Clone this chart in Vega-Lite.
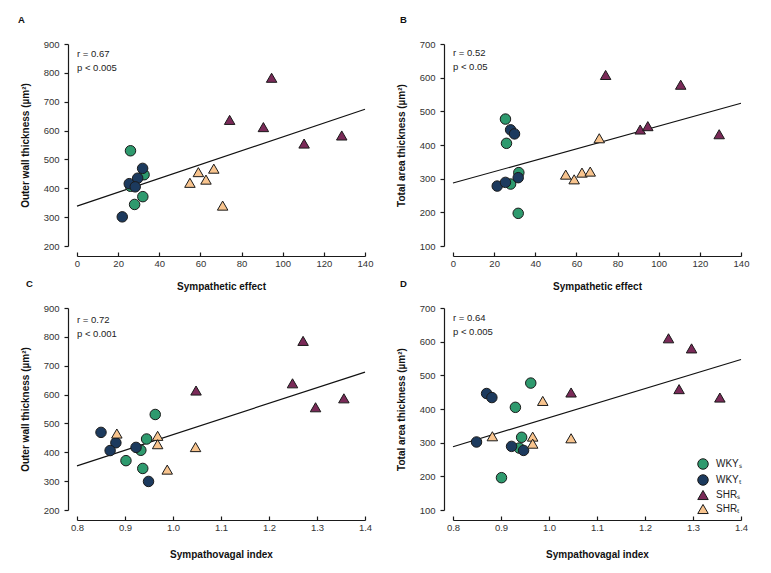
{
  "$schema": "https://vega.github.io/schema/vega-lite/v6.json",
  "background": "white",
  "padding": {"left": 18, "top": 14, "right": 20, "bottom": 8},
  "datasets": {
    "a": [
      {"group": "WKY_S", "x": 26, "y": 530}, {"group": "WKY_S", "x": 32.6, "y": 447}, {"group": "WKY_S", "x": 26, "y": 407}, {"group": "WKY_S", "x": 32, "y": 371}, {"group": "WKY_S", "x": 28, "y": 344},
      {"group": "WKY_T", "x": 22, "y": 301}, {"group": "WKY_T", "x": 25.4, "y": 416}, {"group": "WKY_T", "x": 29.5, "y": 435}, {"group": "WKY_T", "x": 28.3, "y": 405}, {"group": "WKY_T", "x": 31.9, "y": 469},
      {"group": "SHR_S", "x": 74.2, "y": 637}, {"group": "SHR_S", "x": 94.6, "y": 783}, {"group": "SHR_S", "x": 90.6, "y": 612}, {"group": "SHR_S", "x": 110.4, "y": 555}, {"group": "SHR_S", "x": 128.7, "y": 583},
      {"group": "SHR_T", "x": 54.9, "y": 419}, {"group": "SHR_T", "x": 59, "y": 456}, {"group": "SHR_T", "x": 62.7, "y": 430}, {"group": "SHR_T", "x": 66.5, "y": 468}, {"group": "SHR_T", "x": 70.8, "y": 340}
    ],
    "b": [
      {"group": "WKY_S", "x": 25.5, "y": 477}, {"group": "WKY_S", "x": 26, "y": 405}, {"group": "WKY_S", "x": 32, "y": 318}, {"group": "WKY_S", "x": 28, "y": 284}, {"group": "WKY_S", "x": 31.7, "y": 197},
      {"group": "WKY_T", "x": 28, "y": 445}, {"group": "WKY_T", "x": 29.9, "y": 433}, {"group": "WKY_T", "x": 21.5, "y": 278}, {"group": "WKY_T", "x": 25.5, "y": 289}, {"group": "WKY_T", "x": 31.7, "y": 303},
      {"group": "SHR_S", "x": 74.2, "y": 608}, {"group": "SHR_S", "x": 110.7, "y": 579}, {"group": "SHR_S", "x": 91, "y": 446}, {"group": "SHR_S", "x": 94.7, "y": 456}, {"group": "SHR_S", "x": 129.4, "y": 432},
      {"group": "SHR_T", "x": 71.1, "y": 420}, {"group": "SHR_T", "x": 54.8, "y": 312}, {"group": "SHR_T", "x": 58.9, "y": 298}, {"group": "SHR_T", "x": 62.7, "y": 318}, {"group": "SHR_T", "x": 66.7, "y": 321}
    ],
    "c": [
      {"group": "WKY_S", "x": 0.963, "y": 531}, {"group": "WKY_S", "x": 0.945, "y": 446}, {"group": "WKY_S", "x": 0.933, "y": 407}, {"group": "WKY_S", "x": 0.902, "y": 371}, {"group": "WKY_S", "x": 0.937, "y": 344},
      {"group": "WKY_T", "x": 0.85, "y": 469}, {"group": "WKY_T", "x": 0.881, "y": 433}, {"group": "WKY_T", "x": 0.869, "y": 406}, {"group": "WKY_T", "x": 0.923, "y": 417}, {"group": "WKY_T", "x": 0.949, "y": 299},
      {"group": "SHR_S", "x": 1.048, "y": 614}, {"group": "SHR_S", "x": 1.271, "y": 786}, {"group": "SHR_S", "x": 1.249, "y": 639}, {"group": "SHR_S", "x": 1.297, "y": 556}, {"group": "SHR_S", "x": 1.356, "y": 587},
      {"group": "SHR_T", "x": 0.883, "y": 465}, {"group": "SHR_T", "x": 0.968, "y": 457}, {"group": "SHR_T", "x": 0.968, "y": 428}, {"group": "SHR_T", "x": 1.047, "y": 418}, {"group": "SHR_T", "x": 0.988, "y": 340}
    ],
    "d": [
      {"group": "WKY_S", "x": 0.962, "y": 477}, {"group": "WKY_S", "x": 0.93, "y": 405}, {"group": "WKY_S", "x": 0.943, "y": 316}, {"group": "WKY_S", "x": 0.938, "y": 284}, {"group": "WKY_S", "x": 0.901, "y": 196},
      {"group": "WKY_T", "x": 0.87, "y": 446}, {"group": "WKY_T", "x": 0.881, "y": 434}, {"group": "WKY_T", "x": 0.849, "y": 302}, {"group": "WKY_T", "x": 0.922, "y": 289}, {"group": "WKY_T", "x": 0.947, "y": 277},
      {"group": "SHR_S", "x": 1.046, "y": 449}, {"group": "SHR_S", "x": 1.249, "y": 610}, {"group": "SHR_S", "x": 1.297, "y": 580}, {"group": "SHR_S", "x": 1.271, "y": 459}, {"group": "SHR_S", "x": 1.356, "y": 434},
      {"group": "SHR_T", "x": 0.987, "y": 424}, {"group": "SHR_T", "x": 0.882, "y": 319}, {"group": "SHR_T", "x": 0.966, "y": 318}, {"group": "SHR_T", "x": 0.966, "y": 297}, {"group": "SHR_T", "x": 1.046, "y": 313}
    ],
    "lineA": [{"x": 0, "y": 338}, {"x": 140, "y": 674}],
    "lineB": [{"x": 0, "y": 287}, {"x": 140, "y": 524}],
    "lineC": [{"x": 0.8, "y": 353}, {"x": 1.4, "y": 678}],
    "lineD": [{"x": 0.8, "y": 288}, {"x": 1.4, "y": 547}],
    "statA": [{"label": ["r = 0.67", "p < 0.005"]}],
    "statB": [{"label": ["r = 0.52", "p < 0.05"]}],
    "statC": [{"label": ["r = 0.72", "p < 0.001"]}],
    "statD": [{"label": ["r = 0.64", "p < 0.005"]}]
  },
  "columns": 2,
  "spacing": {"row": 62, "column": 88},
  "bounds": "flush",
  "resolve": {"legend": {"color": "independent", "shape": "independent", "size": "independent"}},
  "concat": [
    {
      "title": {"text": "A", "dx": -59},
      "width": 288, "height": 202,
      "layer": [
        {"data": {"name": "lineA"}, "mark": {"type": "line", "color": "#111", "strokeWidth": 1.2},
         "encoding": {
           "x": {"field": "x", "type": "quantitative", "scale": {"domain": [0, 140], "nice": false, "zero": false}, "axis": {"title": "Sympathetic effect", "titlePadding": 14, "values": [0, 20, 40, 60, 80, 100, 120, 140]}},
           "y": {"field": "y", "type": "quantitative", "scale": {"domain": [200, 900], "nice": false, "zero": false}, "axis": {"title": "Outer wall thickness (µm²)", "values": [200, 300, 400, 500, 600, 700, 800, 900]}}
         }},
        {"data": {"name": "a"}, "mark": {"type": "point", "filled": true, "opacity": 1, "stroke": "#1a1a1a", "strokeWidth": 1},
         "encoding": {
           "x": {"field": "x", "type": "quantitative", "scale": {"domain": [0, 140], "nice": false, "zero": false}, "axis": {"title": "Sympathetic effect", "titlePadding": 14, "values": [0, 20, 40, 60, 80, 100, 120, 140]}},
           "y": {"field": "y", "type": "quantitative", "scale": {"domain": [200, 900], "nice": false, "zero": false}, "axis": {"title": "Outer wall thickness (µm²)", "values": [200, 300, 400, 500, 600, 700, 800, 900]}},
           "color": {"field": "group", "type": "nominal", "scale": {"domain": ["WKY_S", "WKY_T", "SHR_S", "SHR_T"], "range": ["#2e9a6e", "#1c3a5e", "#7a2a58", "#f8c48e"]}, "legend": null},
           "shape": {"field": "group", "type": "nominal", "scale": {"domain": ["WKY_S", "WKY_T", "SHR_S", "SHR_T"], "range": ["circle", "circle", "triangle-up", "triangle-up"]}, "legend": null},
           "size": {"field": "group", "type": "nominal", "scale": {"domain": ["WKY_S", "WKY_T", "SHR_S", "SHR_T"], "range": [110, 110, 140, 140]}, "legend": null}
         }},
        {"data": {"name": "statA"}, "mark": {"type": "text", "align": "left", "baseline": "top", "dy": 5, "lineHeight": 14, "fontSize": 9.5, "color": "#222"},
         "encoding": {
           "x": {"datum": 0, "type": "quantitative", "axis": {"title": "Sympathetic effect", "titlePadding": 14, "values": [0, 20, 40, 60, 80, 100, 120, 140]}},
           "y": {"datum": 900, "type": "quantitative", "axis": {"title": "Outer wall thickness (µm²)", "values": [200, 300, 400, 500, 600, 700, 800, 900]}},
           "text": {"field": "label"}}}
      ]
    },
    {
      "title": {"text": "B", "dx": -53},
      "width": 288, "height": 202,
      "layer": [
        {"data": {"name": "lineB"}, "mark": {"type": "line", "color": "#111", "strokeWidth": 1.2},
         "encoding": {
           "x": {"field": "x", "type": "quantitative", "scale": {"domain": [0, 140], "nice": false, "zero": false}, "axis": {"title": "Sympathetic effect", "titlePadding": 14, "values": [0, 20, 40, 60, 80, 100, 120, 140]}},
           "y": {"field": "y", "type": "quantitative", "scale": {"domain": [100, 700], "nice": false, "zero": false}, "axis": {"title": "Total area thickness (µm²)", "values": [100, 200, 300, 400, 500, 600, 700]}}
         }},
        {"data": {"name": "b"}, "mark": {"type": "point", "filled": true, "opacity": 1, "stroke": "#1a1a1a", "strokeWidth": 1},
         "encoding": {
           "x": {"field": "x", "type": "quantitative", "scale": {"domain": [0, 140], "nice": false, "zero": false}, "axis": {"title": "Sympathetic effect", "titlePadding": 14, "values": [0, 20, 40, 60, 80, 100, 120, 140]}},
           "y": {"field": "y", "type": "quantitative", "scale": {"domain": [100, 700], "nice": false, "zero": false}, "axis": {"title": "Total area thickness (µm²)", "values": [100, 200, 300, 400, 500, 600, 700]}},
           "color": {"field": "group", "type": "nominal", "scale": {"domain": ["WKY_S", "WKY_T", "SHR_S", "SHR_T"], "range": ["#2e9a6e", "#1c3a5e", "#7a2a58", "#f8c48e"]}, "legend": null},
           "shape": {"field": "group", "type": "nominal", "scale": {"domain": ["WKY_S", "WKY_T", "SHR_S", "SHR_T"], "range": ["circle", "circle", "triangle-up", "triangle-up"]}, "legend": null},
           "size": {"field": "group", "type": "nominal", "scale": {"domain": ["WKY_S", "WKY_T", "SHR_S", "SHR_T"], "range": [110, 110, 140, 140]}, "legend": null}
         }},
        {"data": {"name": "statB"}, "mark": {"type": "text", "align": "left", "baseline": "top", "dy": 4, "lineHeight": 14, "fontSize": 9.5, "color": "#222"},
         "encoding": {
           "x": {"datum": 0, "type": "quantitative", "axis": {"title": "Sympathetic effect", "titlePadding": 14, "values": [0, 20, 40, 60, 80, 100, 120, 140]}},
           "y": {"datum": 700, "type": "quantitative", "axis": {"title": "Total area thickness (µm²)", "values": [100, 200, 300, 400, 500, 600, 700]}},
           "text": {"field": "label"}}}
      ]
    },
    {
      "title": {"text": "C", "dx": -51},
      "width": 288, "height": 202,
      "layer": [
        {"data": {"name": "lineC"}, "mark": {"type": "line", "color": "#111", "strokeWidth": 1.2},
         "encoding": {
           "x": {"field": "x", "type": "quantitative", "scale": {"domain": [0.8, 1.4], "nice": false, "zero": false}, "axis": {"title": "Sympathovagal index", "titlePadding": 18, "values": [0.8, 0.9, 1.0, 1.1, 1.2, 1.3, 1.4], "format": ".1f"}},
           "y": {"field": "y", "type": "quantitative", "scale": {"domain": [200, 900], "nice": false, "zero": false}, "axis": {"title": "Outer wall thickness (µm²)", "values": [200, 300, 400, 500, 600, 700, 800, 900]}}
         }},
        {"data": {"name": "c"}, "mark": {"type": "point", "filled": true, "opacity": 1, "stroke": "#1a1a1a", "strokeWidth": 1},
         "encoding": {
           "x": {"field": "x", "type": "quantitative", "scale": {"domain": [0.8, 1.4], "nice": false, "zero": false}, "axis": {"title": "Sympathovagal index", "titlePadding": 18, "values": [0.8, 0.9, 1.0, 1.1, 1.2, 1.3, 1.4], "format": ".1f"}},
           "y": {"field": "y", "type": "quantitative", "scale": {"domain": [200, 900], "nice": false, "zero": false}, "axis": {"title": "Outer wall thickness (µm²)", "values": [200, 300, 400, 500, 600, 700, 800, 900]}},
           "color": {"field": "group", "type": "nominal", "scale": {"domain": ["WKY_S", "WKY_T", "SHR_S", "SHR_T"], "range": ["#2e9a6e", "#1c3a5e", "#7a2a58", "#f8c48e"]}, "legend": null},
           "shape": {"field": "group", "type": "nominal", "scale": {"domain": ["WKY_S", "WKY_T", "SHR_S", "SHR_T"], "range": ["circle", "circle", "triangle-up", "triangle-up"]}, "legend": null},
           "size": {"field": "group", "type": "nominal", "scale": {"domain": ["WKY_S", "WKY_T", "SHR_S", "SHR_T"], "range": [110, 110, 140, 140]}, "legend": null}
         }},
        {"data": {"name": "statC"}, "mark": {"type": "text", "align": "left", "baseline": "top", "dy": 7, "lineHeight": 14, "fontSize": 9.5, "color": "#222"},
         "encoding": {
           "x": {"datum": 0.8, "type": "quantitative", "axis": {"title": "Sympathovagal index", "titlePadding": 18, "values": [0.8, 0.9, 1.0, 1.1, 1.2, 1.3, 1.4], "format": ".1f"}},
           "y": {"datum": 900, "type": "quantitative", "axis": {"title": "Outer wall thickness (µm²)", "values": [200, 300, 400, 500, 600, 700, 800, 900]}},
           "text": {"field": "label"}}}
      ]
    },
    {
      "title": {"text": "D", "dx": -53},
      "width": 288, "height": 202,
      "layer": [
        {"data": {"name": "lineD"}, "mark": {"type": "line", "color": "#111", "strokeWidth": 1.2},
         "encoding": {
           "x": {"field": "x", "type": "quantitative", "scale": {"domain": [0.8, 1.4], "nice": false, "zero": false}, "axis": {"title": "Sympathovagal index", "titlePadding": 18, "values": [0.8, 0.9, 1.0, 1.1, 1.2, 1.3, 1.4], "format": ".1f"}},
           "y": {"field": "y", "type": "quantitative", "scale": {"domain": [100, 700], "nice": false, "zero": false}, "axis": {"title": "Total area thickness (µm²)", "values": [100, 200, 300, 400, 500, 600, 700]}}
         }},
        {"data": {"name": "d"}, "mark": {"type": "point", "filled": true, "opacity": 1, "stroke": "#1a1a1a", "strokeWidth": 1},
         "encoding": {
           "x": {"field": "x", "type": "quantitative", "scale": {"domain": [0.8, 1.4], "nice": false, "zero": false}, "axis": {"title": "Sympathovagal index", "titlePadding": 18, "values": [0.8, 0.9, 1.0, 1.1, 1.2, 1.3, 1.4], "format": ".1f"}},
           "y": {"field": "y", "type": "quantitative", "scale": {"domain": [100, 700], "nice": false, "zero": false}, "axis": {"title": "Total area thickness (µm²)", "values": [100, 200, 300, 400, 500, 600, 700]}},
           "color": {"field": "group", "type": "nominal", "scale": {"domain": ["WKY_S", "WKY_T", "SHR_S", "SHR_T"], "range": ["#2e9a6e", "#1c3a5e", "#7a2a58", "#f8c48e"]},
             "legend": {"orient": "none", "legendX": 244, "legendY": 150, "title": null, "labelExpr": "replace(replace(datum.label, '_S', 'ₛ'), '_T', 'ₜ')", "symbolStrokeColor": "#1a1a1a", "symbolStrokeWidth": 1, "labelFontSize": 10, "labelColor": "#222", "rowPadding": 0, "labelOffset": 7, "padding": 0}},
           "shape": {"field": "group", "type": "nominal", "scale": {"domain": ["WKY_S", "WKY_T", "SHR_S", "SHR_T"], "range": ["circle", "circle", "triangle-up", "triangle-up"]},
             "legend": {"orient": "none", "legendX": 244, "legendY": 150, "title": null, "labelExpr": "replace(replace(datum.label, '_S', 'ₛ'), '_T', 'ₜ')", "symbolStrokeColor": "#1a1a1a", "symbolStrokeWidth": 1, "labelFontSize": 10, "labelColor": "#222", "rowPadding": 0, "labelOffset": 7, "padding": 0}},
           "size": {"field": "group", "type": "nominal", "scale": {"domain": ["WKY_S", "WKY_T", "SHR_S", "SHR_T"], "range": [110, 110, 140, 140]},
             "legend": {"orient": "none", "legendX": 244, "legendY": 150, "title": null, "labelExpr": "replace(replace(datum.label, '_S', 'ₛ'), '_T', 'ₜ')", "symbolStrokeColor": "#1a1a1a", "symbolStrokeWidth": 1, "labelFontSize": 10, "labelColor": "#222", "rowPadding": 0, "labelOffset": 7, "padding": 0}}
         }},
        {"data": {"name": "statD"}, "mark": {"type": "text", "align": "left", "baseline": "top", "dy": 5, "lineHeight": 14, "fontSize": 9.5, "color": "#222"},
         "encoding": {
           "x": {"datum": 0.8, "type": "quantitative", "axis": {"title": "Sympathovagal index", "titlePadding": 18, "values": [0.8, 0.9, 1.0, 1.1, 1.2, 1.3, 1.4], "format": ".1f"}},
           "y": {"datum": 700, "type": "quantitative", "axis": {"title": "Total area thickness (µm²)", "values": [100, 200, 300, 400, 500, 600, 700]}},
           "text": {"field": "label"}}}
      ]
    }
  ],
  "config": {
    "font": "Liberation Sans",
    "view": {"stroke": null},
    "title": {"anchor": "start", "frame": "group", "fontSize": 9.5, "fontWeight": "bold", "color": "#111", "offset": 15, "font": "Liberation Sans"},
    "axis": {"grid": false, "domainColor": "#1a1a1a", "tickColor": "#1a1a1a", "domainWidth": 1.2, "tickWidth": 1.2, "labelColor": "#333", "labelFontSize": 9.5, "labelFont": "Liberation Sans", "titleFont": "Liberation Sans", "titleFontSize": 10, "titleFontWeight": "bold", "titleColor": "#111"},
    "axisX": {"offset": 10, "tickSize": -4, "labelPadding": 6, "labelFlush": false},
    "axisY": {"offset": 9, "tickSize": 4, "labelPadding": 5, "titlePadding": 13},
    "legend": {"labelFont": "Liberation Sans"}
  }
}
